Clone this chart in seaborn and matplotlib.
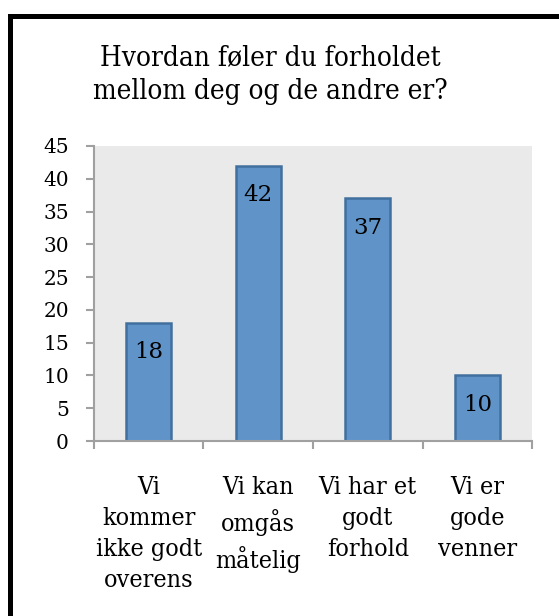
import pandas as pd
import seaborn as sns
import matplotlib.pyplot as plt
from matplotlib.patches import Rectangle

# data
categories = ["Vi\nkommer\nikke godt\noverens",
              "Vi kan\nomgås\nmåtelig",
              "Vi har et\ngodt\nforhold",
              "Vi er\ngode\nvenner"]
values = [18, 42, 37, 10]
yticks = [0, 5, 10, 15, 20, 25, 30, 35, 40, 45]
title = "Hvordan føler du forholdet\nmellom deg og de andre er?"

df = pd.DataFrame({"kategori": categories, "antall": values})

sns.set_style("white")
plt.rcParams['font.family'] = ['DejaVu Serif', 'Liberation Serif']

fig = plt.figure(figsize=(5.59, 6.16), dpi=100)
ax = fig.add_axes([0.168, 0.284, 0.784, 0.479])
ax.set_facecolor("#EAEAEA")

sns.barplot(data=df, x="kategori", y="antall", color="#6094C9", width=0.41,
            edgecolor="#41709F", linewidth=1.8, saturation=1, ax=ax)

# data labels inside the top of each bar
for i, v in enumerate(values):
    ax.annotate(str(v), xy=(i, v), xytext=(0, -13), textcoords="offset points",
                ha="center", va="top", fontsize=16.5, color="black")

ax.set_xlim(-0.5, 3.5)
ax.set_ylim(0, 45)
ax.set_yticks(yticks)
ax.set_xlabel("")
ax.set_ylabel("")

for s in ["top", "right"]:
    ax.spines[s].set_visible(False)
for s in ["left", "bottom"]:
    ax.spines[s].set_color("#A0A0A0")
    ax.spines[s].set_linewidth(1.5)

ax.tick_params(axis="y", length=6, width=1.5, color="#A0A0A0", pad=12,
               labelsize=14.5, labelcolor="black", left=True)
ax.set_xticks([-0.5, 0.5, 1.5, 2.5, 3.5], minor=True)
ax.tick_params(axis="x", which="minor", length=6, width=1.5, color="#A0A0A0",
               bottom=True)
ax.tick_params(axis="x", which="major", length=0, pad=25, labelsize=18,
               labelcolor="black")
for lbl in ax.get_xticklabels():
    lbl.set_linespacing(1.45)
    lbl.set_va("top")
    lbl.set_fontstretch("condensed")

fig.text(0.483, 1 - 44 / 616, title, ha="center", va="top", fontsize=20,
         linespacing=1.35, fontstretch="condensed", color="black")

# outer chart frame (left and top edges visible)
fig.patches.append(Rectangle((10 / 559, -0.1), 1.2, 1 - 15.5 / 616 + 0.1,
                             transform=fig.transFigure, fill=False,
                             edgecolor="black", linewidth=3.6))

fig.savefig("out.png", dpi=100)
